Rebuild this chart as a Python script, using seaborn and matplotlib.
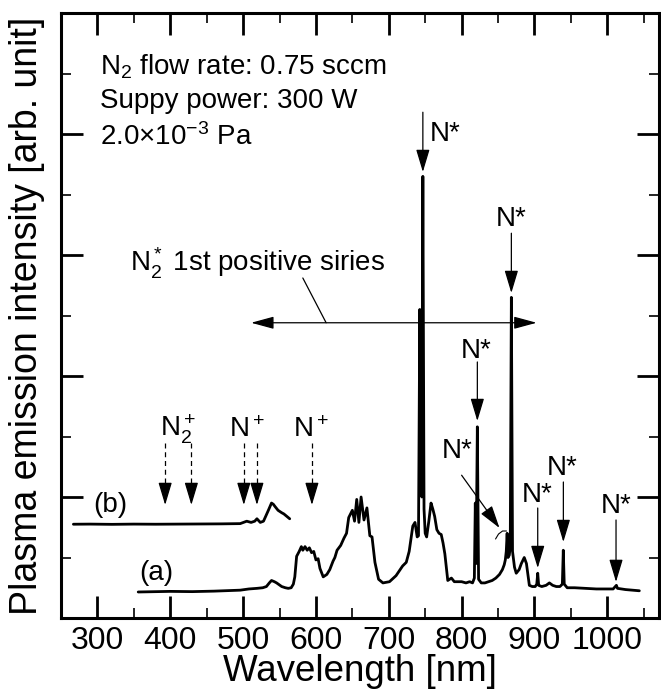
import numpy as np
import pandas as pd
import matplotlib
matplotlib.use('Agg')
import matplotlib.pyplot as plt
import seaborn as sns
from matplotlib.ticker import MultipleLocator

# ---------------- data ----------------
# spectrum (a): wavelength [nm] / intensity [arb. unit]
wl_a = [356, 380, 400, 430, 460, 496, 508, 519, 527, 532, 536, 539, 543, 546, 553, 558, 562, 566,
        569, 571, 573.5, 577, 580, 582, 585, 588, 591, 594, 597, 600, 603, 605.5, 610, 615, 619,
        623.5, 626, 629, 634, 638.5, 642, 645, 650, 653, 656, 659, 662, 666, 670, 674, 677, 681,
        686, 692, 701, 710, 719, 724, 728, 733, 736, 739, 740.8, 742.6, 744.2, 745.4, 746.8,
        748.4, 750, 752, 755, 758, 760.5, 763, 766, 769, 772, 774.5, 777, 781, 786, 790, 795,
        800, 806, 811, 815, 817.5, 818.8, 819.9, 821.6, 823.3, 827, 832, 837, 842, 847, 852,
        856, 858.5, 860, 861.3, 862.5, 863.7, 865.5, 866.8, 868.3, 869.9, 872.6, 875, 879, 882,
        886, 889, 893, 897, 901, 903.2, 904.5, 905.8, 910, 916, 920.5, 925, 930, 935, 938.3,
        939.6, 940.9, 945, 955, 971, 985, 998, 1008, 1011, 1012.5, 1014, 1025, 1035, 1044]
int_a = [0.215, 0.218, 0.22, 0.218, 0.222, 0.23, 0.24, 0.245, 0.25, 0.26, 0.29, 0.31, 0.30, 0.29,
         0.26, 0.25, 0.245, 0.25, 0.28, 0.34, 0.51, 0.55, 0.59, 0.56, 0.59, 0.56, 0.58, 0.54,
         0.55, 0.48, 0.49, 0.41, 0.34, 0.36, 0.40, 0.47, 0.50, 0.56, 0.60, 0.66, 0.70, 0.83,
         0.89, 0.80, 0.98, 0.79, 1.0, 0.81, 0.91, 0.68, 0.67, 0.46, 0.32, 0.29, 0.30, 0.35,
         0.43, 0.46, 0.55, 0.76, 0.79, 0.67, 0.68, 2.55, 1.2, 1.0, 3.65, 0.9, 0.70, 0.67, 0.80,
         0.95, 0.90, 0.84, 0.73, 0.70, 0.69, 0.62, 0.53, 0.31, 0.33, 0.30, 0.30, 0.30, 0.29,
         0.30, 0.29, 0.33, 0.95, 0.45, 1.58, 0.32, 0.29, 0.29, 0.30, 0.31, 0.33, 0.36, 0.40,
         0.44, 0.48, 0.55, 0.70, 0.50, 0.52, 0.60, 2.65, 0.55, 0.42, 0.37, 0.40, 0.45, 0.50,
         0.45, 0.27, 0.26, 0.26, 0.28, 0.37, 0.27, 0.26, 0.27, 0.29, 0.27, 0.26, 0.26, 0.28,
         0.56, 0.28, 0.25, 0.25, 0.245, 0.24, 0.24, 0.24, 0.26, 0.27, 0.245, 0.235, 0.23, 0.225]

# spectrum (b)
wl_b = [267, 290, 320, 350, 380, 410, 440, 470, 496, 505, 511, 516, 519, 523.6, 528, 531, 534.7,
        539, 541.5, 544, 548, 553, 556, 560, 564]
int_b = [0.775, 0.776, 0.774, 0.776, 0.775, 0.776, 0.777, 0.778, 0.78, 0.80, 0.79, 0.80, 0.82,
         0.79, 0.80, 0.84, 0.89, 0.95, 0.94, 0.92, 0.89, 0.87, 0.86, 0.84, 0.82]

# N* lines (solid arrows): wavelength, arrow start, arrow tip, label x, label baseline
nstar_wl = [746.8, 868.3, 821.6, 904.5, 939.7, 1012]
nstar_y0 = [4.18, 3.18, 2.116, 0.909, 1.124, 0.81]
nstar_y1 = [3.686, 2.686, 1.628, 0.413, 0.628, 0.298]
nstar_lx = [756, 868.3, 820.5, 904, 938, 1012]
nstar_ly = [3.94, 3.24, 2.149, 0.959, 1.18, 0.868]
nstar_ha = ['left', 'center', 'center', 'center', 'center', 'center']

# ion lines (dashed arrows)
ion_wl = [393, 429, 501, 519, 594.5]
ion_y0, ion_y1 = 1.446, 0.934
ion_labels = [r'N$_2^+$', r'N$^+$', r'N$^+$']
ion_lx = [411, 506, 593]
ion_ly = 1.496

# N2* 1st positive series span
fps_x = [511, 903]
fps_y = 2.44
fps_label_xy = (345, 2.86)
fps_lead_x = [582, 614]
fps_lead_y = [2.81, 2.44]

# N* 862 nm diagonal annotation
n862_start = (800, 1.18)
n862_tip = (852, 0.744)
n862_label = (794.5, 1.32)
arc_x = [846.6, 850.7, 856.2, 861.6]
arc_y = [0.653, 0.694, 0.719, 0.719]

info_lines = [r'N$_2$ flow rate: 0.75 sccm', 'Suppy power: 300 W', r'2.0$\times$10$^{-3}$ Pa']
info_y = [0.899, 0.843, 0.782]

# ---------------- style ----------------
sns.set_style('ticks')
plt.rcParams['font.family'] = ['Liberation Sans', 'DejaVu Sans']
plt.rcParams['mathtext.fontset'] = 'custom'
plt.rcParams['mathtext.rm'] = 'Liberation Sans'
plt.rcParams['mathtext.it'] = 'Liberation Sans:italic'
plt.rcParams['mathtext.bf'] = 'Liberation Sans:bold'
plt.rcParams['mathtext.default'] = 'regular'
plt.rcParams['text.color'] = 'black'
plt.rcParams['axes.labelcolor'] = 'black'
plt.rcParams['xtick.color'] = 'black'
plt.rcParams['ytick.color'] = 'black'
plt.rcParams['xtick.labelcolor'] = 'black'

fig = plt.figure(figsize=(6.61, 6.99), dpi=100)
ax = fig.add_axes([61/661, 81/699, 598/661, 605/699])

df_a = pd.DataFrame({'wl': wl_a, 'I': int_a})
df_b = pd.DataFrame({'wl': wl_b, 'I': int_b})
sns.lineplot(data=df_a, x='wl', y='I', ax=ax, color='black', lw=2.0, sort=False, estimator=None)
sns.lineplot(data=df_b, x='wl', y='I', ax=ax, color='black', lw=2.0, sort=False, estimator=None)

ax.set_xlim(250, 1071)
ax.set_ylim(0, 5)
ax.xaxis.set_major_locator(MultipleLocator(100))
ax.xaxis.set_minor_locator(MultipleLocator(50))
ax.yaxis.set_major_locator(MultipleLocator(1))
ax.yaxis.set_minor_locator(MultipleLocator(0.5))
ax.tick_params(which='both', direction='in', top=True, right=True, color='black')
ax.tick_params(which='major', length=16, width=2.0)
ax.tick_params(which='minor', length=7.5, width=1.2)
ax.tick_params(axis='x', labelsize=23, pad=6, labelcolor='black')
ax.tick_params(axis='y', labelleft=False)
for s in ax.spines.values():
    s.set_linewidth(2.2)
    s.set_color('black')

ax.set_xlabel('Wavelength [nm]', fontsize=26.5, color='black')
ax.set_ylabel('Plasma emission intensity [arb. unit]', fontsize=27, color='black')
ax.xaxis.set_label_coords(0.5, -0.06)
ax.yaxis.set_label_coords(-0.026, 0.5)

FS = 20
head = '-|>,head_length=1.4,head_width=0.42'

def arrow(x, y0, y1):
    ax.annotate('', xy=(x, y1), xytext=(x, y0),
                arrowprops=dict(arrowstyle=head, mutation_scale=10, lw=0.9, color='black',
                                shrinkA=0, shrinkB=0))

for x, y0, y1, lx, ly, ha in zip(nstar_wl, nstar_y0, nstar_y1, nstar_lx, nstar_ly, nstar_ha):
    arrow(x, y0, y1)
    ax.text(lx, ly, 'N*', fontsize=FS, ha=ha, va='baseline', color='black')

for x in ion_wl:
    ax.plot([x, x], [ion_y0, ion_y1 + 0.1], color='black', lw=0.9, ls=(0, (4, 3)))
    arrow(x, ion_y1 + 0.16, ion_y1)
for lab, lx in zip(ion_labels, ion_lx):
    ax.text(lx, ion_ly, lab, fontsize=FS, ha='center', va='baseline', color='black')

ax.annotate('', xy=(fps_x[1], fps_y), xytext=(fps_x[0], fps_y),
            arrowprops=dict(arrowstyle='<|-|>,head_length=1.4,head_width=0.38', mutation_scale=10,
                            lw=0.9, color='black', shrinkA=0, shrinkB=0))
ax.plot(fps_lead_x, fps_lead_y, color='black', lw=0.9)
ax.text(fps_label_xy[0], fps_label_xy[1], r'N$_2^*$ 1st positive siries', fontsize=FS,
        ha='left', va='baseline', color='black')

ax.annotate('', xy=n862_tip, xytext=n862_start,
            arrowprops=dict(arrowstyle=head, mutation_scale=10, lw=0.9, color='black',
                            shrinkA=0, shrinkB=0))
ax.text(n862_label[0], n862_label[1], 'N*', fontsize=FS, ha='center', va='baseline', color='black')
ax.plot(arc_x, arc_y, color='black', lw=0.8)

ax.text(381, 0.372, '(a)', fontsize=FS, ha='center', va='center', color='black')
ax.text(318, 0.93, '(b)', fontsize=FS, ha='center', va='center', color='black')

for t, y in zip(info_lines, info_y):
    ax.text(0.065, y, t, fontsize=FS, transform=ax.transAxes, ha='left', va='baseline', color='black')

fig.savefig('out.png', dpi=100)
